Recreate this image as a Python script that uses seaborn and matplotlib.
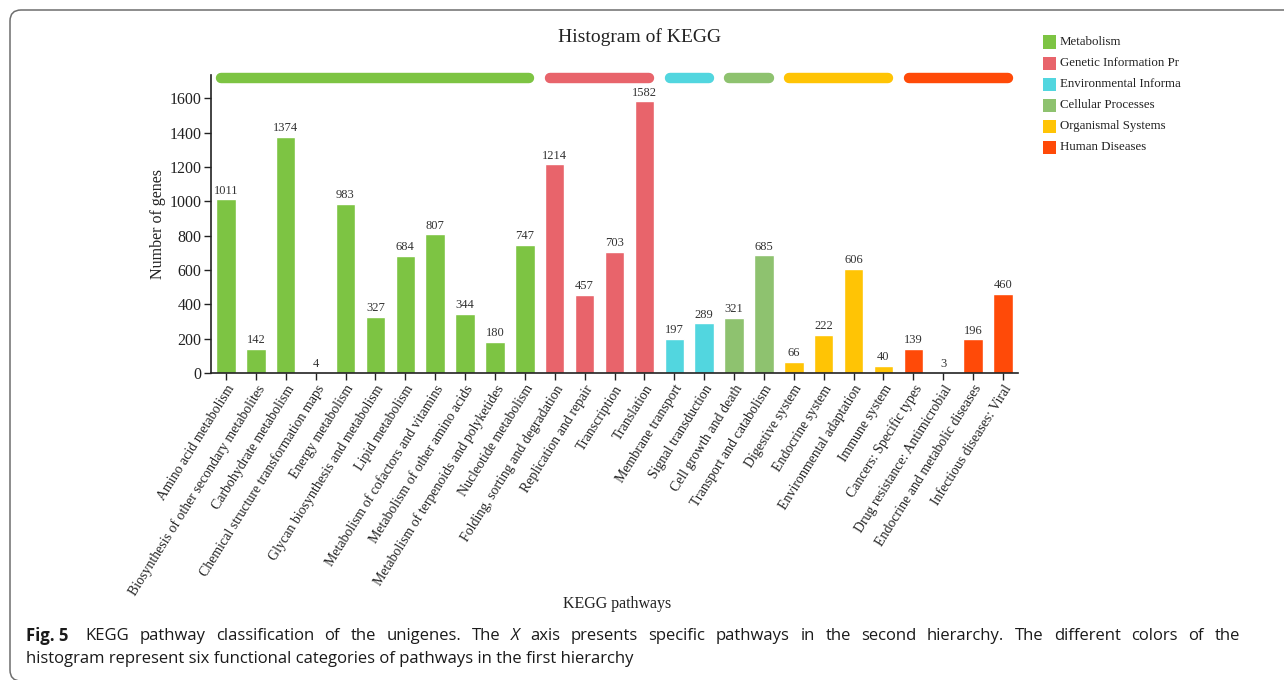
import matplotlib
matplotlib.use("Agg")
import matplotlib.pyplot as plt
from matplotlib.patches import Rectangle, FancyBboxPatch
import seaborn as sns
import pandas as pd

pathways = [
    "Amino acid metabolism",
    "Biosynthesis of other secondary metabolites",
    "Carbohydrate metabolism",
    "Chemical structure transformation maps",
    "Energy metabolism",
    "Glycan biosynthesis and metabolism",
    "Lipid metabolism",
    "Metabolism of cofactors and vitamins",
    "Metabolism of other amino acids",
    "Metabolism of terpenoids and polyketides",
    "Nucleotide metabolism",
    "Folding, sorting and degradation",
    "Replication and repair",
    "Transcription",
    "Translation",
    "Membrane transport",
    "Signal transduction",
    "Cell growth and death",
    "Transport and catabolism",
    "Digestive system",
    "Endocrine system",
    "Environmental adaptation",
    "Immune system",
    "Cancers: Specific types",
    "Drug resistance: Antimicrobial",
    "Endocrine and metabolic diseases",
    "Infectious diseases: Viral",
]
gene_counts = [1011, 142, 1374, 4, 983, 327, 684, 807, 344, 180, 747,
               1214, 457, 703, 1582,
               197, 289,
               321, 685,
               66, 222, 606, 40,
               139, 3, 196, 460]
category_sizes = [11, 4, 2, 2, 4, 4]
categories = ["Metabolism", "Genetic Information Pr", "Environmental Informa",
              "Cellular Processes", "Organismal Systems", "Human Diseases"]
category_colors = ["#7DC443", "#E8646B", "#52D6DF", "#8EC26F", "#FFC405", "#FF4A08"]
y_ticks = [0, 200, 400, 600, 800, 1000, 1200, 1400, 1600]

category_of = []
for name, n in zip(categories, category_sizes):
    category_of += [name] * n
df = pd.DataFrame({"pathway": pathways, "genes": gene_counts, "category": category_of})

sns.set_theme(style="white")
plt.rcParams["font.family"] = ["Liberation Serif", "DejaVu Serif"]

W, H = 1284, 680
DPI = 100
fig = plt.figure(figsize=(W / DPI, H / DPI), dpi=DPI)


def px(x, y):
    """Pixel position (from top-left) to figure fraction."""
    return x / W, 1 - y / H


# rounded panel frame (open to the right and bottom edges of the canvas)
frame = FancyBboxPatch((10 / DPI, (H - 681) / DPI), 1300 / DPI, 671 / DPI,
                       boxstyle="round,pad=0,rounding_size=0.11",
                       transform=fig.dpi_scale_trans, fill=False,
                       edgecolor="#6e6e6e", linewidth=1.1)
fig.patches.append(frame)

ax_l, ax_r, ax_t, ax_b = 211, 1018, 75, 373
ax = fig.add_axes([ax_l / W, 1 - ax_b / H, (ax_r - ax_l) / W, (ax_b - ax_t) / H])

BAR_W = 0.65
sns.barplot(data=df, x="pathway", y="genes", hue="category",
            palette=dict(zip(categories, category_colors)),
            hue_order=categories, dodge=False, width=BAR_W,
            legend=False, ax=ax, saturation=1)

ax.set_xlim(-0.5, len(pathways) - 0.5)
ax.set_ylim(0, 1735)
ax.set_yticks(y_ticks)
ax.set_yticklabels([str(t) for t in y_ticks], fontsize=11.5)
ax.set_xticks(range(len(pathways)))
ax.set_xticklabels(pathways, rotation=58, ha="right", rotation_mode="anchor",
                   fontsize=10, color="#222222")
ax.set_xlabel("")
ax.set_ylabel("")
for s in ["top", "right"]:
    ax.spines[s].set_visible(False)
for s in ["left", "bottom"]:
    ax.spines[s].set_color("#222222")
    ax.spines[s].set_linewidth(1.2)
ax.tick_params(axis="both", which="both", direction="out", length=5,
               width=1, color="#222222", pad=2, left=True, bottom=True)
ax.tick_params(axis="y", labelcolor="#222222")

# value labels above bars
for i, v in enumerate(gene_counts):
    ax.annotate(str(v), (i, v), xytext=(0, 2), textcoords="offset points",
                ha="center", va="bottom", fontsize=9, color="#333333")

# category strips above the bars
start = 0
half = BAR_W / 2
for n, col in zip(category_sizes, category_colors):
    x0 = start - half + 0.17
    x1 = start + n - 1 + half - 0.17
    ax.plot([x0, x1], [1715, 1715], color=col, linewidth=7.5,
            solid_capstyle="round", clip_on=False)
    start += n

fig.text(*px(640, 37), "Histogram of KEGG", ha="center", va="center",
         fontsize=14, color="#222222")
fig.text(*px(158, 224), "Number of genes", ha="center", va="center",
         rotation=90, fontsize=11.5, color="#222222")
fig.text(*px(617, 604), "KEGG pathways", ha="center", va="center",
         fontsize=11.5, color="#222222")

# legend: coloured squares with labels
sq = 13
for k, (lab, col) in enumerate(zip(categories, category_colors)):
    yc = 42 + k * 21.1
    fig.patches.append(Rectangle(px(1043, yc + sq / 2), sq / W, sq / H,
                                 transform=fig.transFigure, facecolor=col,
                                 edgecolor="none"))
    fig.text(*px(1060, yc), lab, ha="left", va="center", fontsize=9.3,
             color="#222222")

# caption, first line justified across the panel width
cap_font = ["Open Sans", "DejaVu Sans"]
cap_size = 12
renderer = fig.canvas.get_renderer()
line1 = [("Fig. 5", "bold", "normal")]
line1 += [(w, "normal", "normal") for w in
          "KEGG pathway classification of the unigenes. The".split()]
line1 += [("X", "normal", "italic")]
line1 += [(w, "normal", "normal") for w in
          ("axis presents specific pathways in the second hierarchy. "
           "The different colors of the").split()]
x_left, x_right = 26, 1240
y1 = 1 - 636 / H
items = []
total = 0.0
for txt, wt, st in line1:
    t = fig.text(0, y1, txt, ha="left", va="center", fontsize=cap_size,
                 family=cap_font, weight=wt, style=st, color="#1a1a1a")
    w = t.get_window_extent(renderer=renderer).width
    items.append((t, w))
    total += w
extra_after_label = 6
gap = (x_right - x_left - total - extra_after_label) / (len(items) - 1)
x = x_left
for k, (t, w) in enumerate(items):
    t.set_x(x / W)
    x += w + gap + (extra_after_label if k == 0 else 0)
fig.text(x_left / W, 1 - 659 / H,
         "histogram represent six functional categories of pathways in the first hierarchy",
         ha="left", va="center", fontsize=cap_size, family=cap_font, color="#1a1a1a")

fig.savefig("out.png", dpi=DPI)
